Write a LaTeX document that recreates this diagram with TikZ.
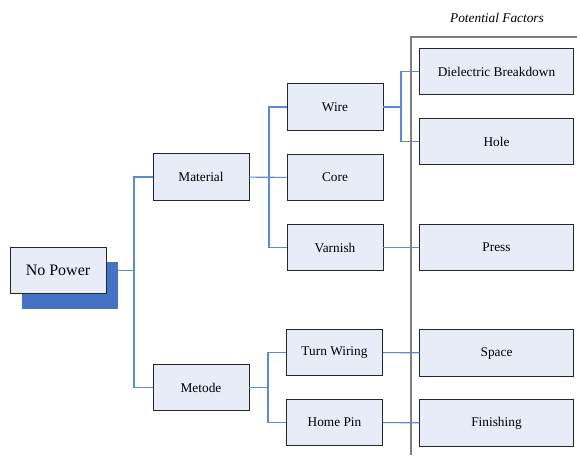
\documentclass[tikz,border=0pt]{standalone}
\usepackage{fontspec}
\setmainfont{Liberation Serif}
\usepackage{xcolor}
\usetikzlibrary{positioning}

\definecolor{boxfill}{HTML}{E7ECF7}
\definecolor{linkblue}{HTML}{5B8BD0}
\definecolor{shadowblue}{HTML}{4472C4}
\definecolor{framegray}{HTML}{7F7F7F}

\begin{document}
\begin{tikzpicture}[x=0.75pt,y=-0.75pt,
    box/.style={draw=black!85,line width=0.7pt,fill=boxfill,minimum width=72pt,minimum height=35pt,inner sep=0pt,font=\fontsize{10}{12}\selectfont},
    factor/.style={box,minimum width=115pt},
    link/.style={draw=linkblue,line width=0.8pt}]
        \useasboundingbox (0,0) rectangle (577,455);
        % root with its shadow
        \node[fill=shadowblue,minimum width=72pt,minimum height=35pt,inner sep=0pt] (npshadow) at (70,285.5) {};
        \node[box,font=\fontsize{12}{14}\selectfont] (nopower) at (58,270.5) {No Power};
        % causes
        \node[box] (material) at (201,177) {Material};
        \node[box] (metode) at (201,387.5) {Metode};
        \node[box] (wire) at (335,107) {Wire};
        \node[box] (core) at (335,177.5) {Core};
        \node[box] (varnish) at (335,247.5) {Varnish};
        \node[box] (turnwiring) at (334.5,352.5) {Turn Wiring};
        \node[box] (homepin) at (334.5,422.5) {Home Pin};
        % potential factors
        \node[factor] (dielectric) at (496.5,71.5) {Dielectric Breakdown};
        \node[factor] (hole) at (496.5,141.5) {Hole};
        \node[factor] (press) at (496.5,247.5) {Press};
        \node[factor] (space) at (496.5,353) {Space};
        \node[factor] (finishing) at (496.5,423) {Finishing};
        \node[font=\fontsize{10}{12}\selectfont\itshape] (pflabel) at (497,18) {Potential Factors};
        % branch points
        \coordinate (b1) at (134,270.5);
        \coordinate (b2) at (269,177);
        \coordinate (b3) at (401,107);
        \coordinate (b4) at (268,387.5);
        \draw[link] (nopower.east -| npshadow.east) -- (b1);
        \draw[link] (b1) |- (material);
        \draw[link] (b1) |- (metode);
        \draw[link] (material) -- (core);
        \draw[link] (b2) |- (wire);
        \draw[link] (b2) |- (varnish);
        \draw[link] (metode) -- (b4);
        \draw[link] (b4) |- (turnwiring);
        \draw[link] (b4) |- (homepin);
        \draw[link] (wire) -- (b3);
        \draw[link] (b3) |- (dielectric);
        \draw[link] (b3) |- (hole);
        \draw[link] (varnish) -- (press);
        \draw[link] (turnwiring) -- (space);
        \draw[link] (homepin) -- (finishing);
        % frame of the factors
        \draw[framegray,line width=0.9pt] (411,455) -- (411,37) -- (577,37);
    \end{tikzpicture}
\end{document}
